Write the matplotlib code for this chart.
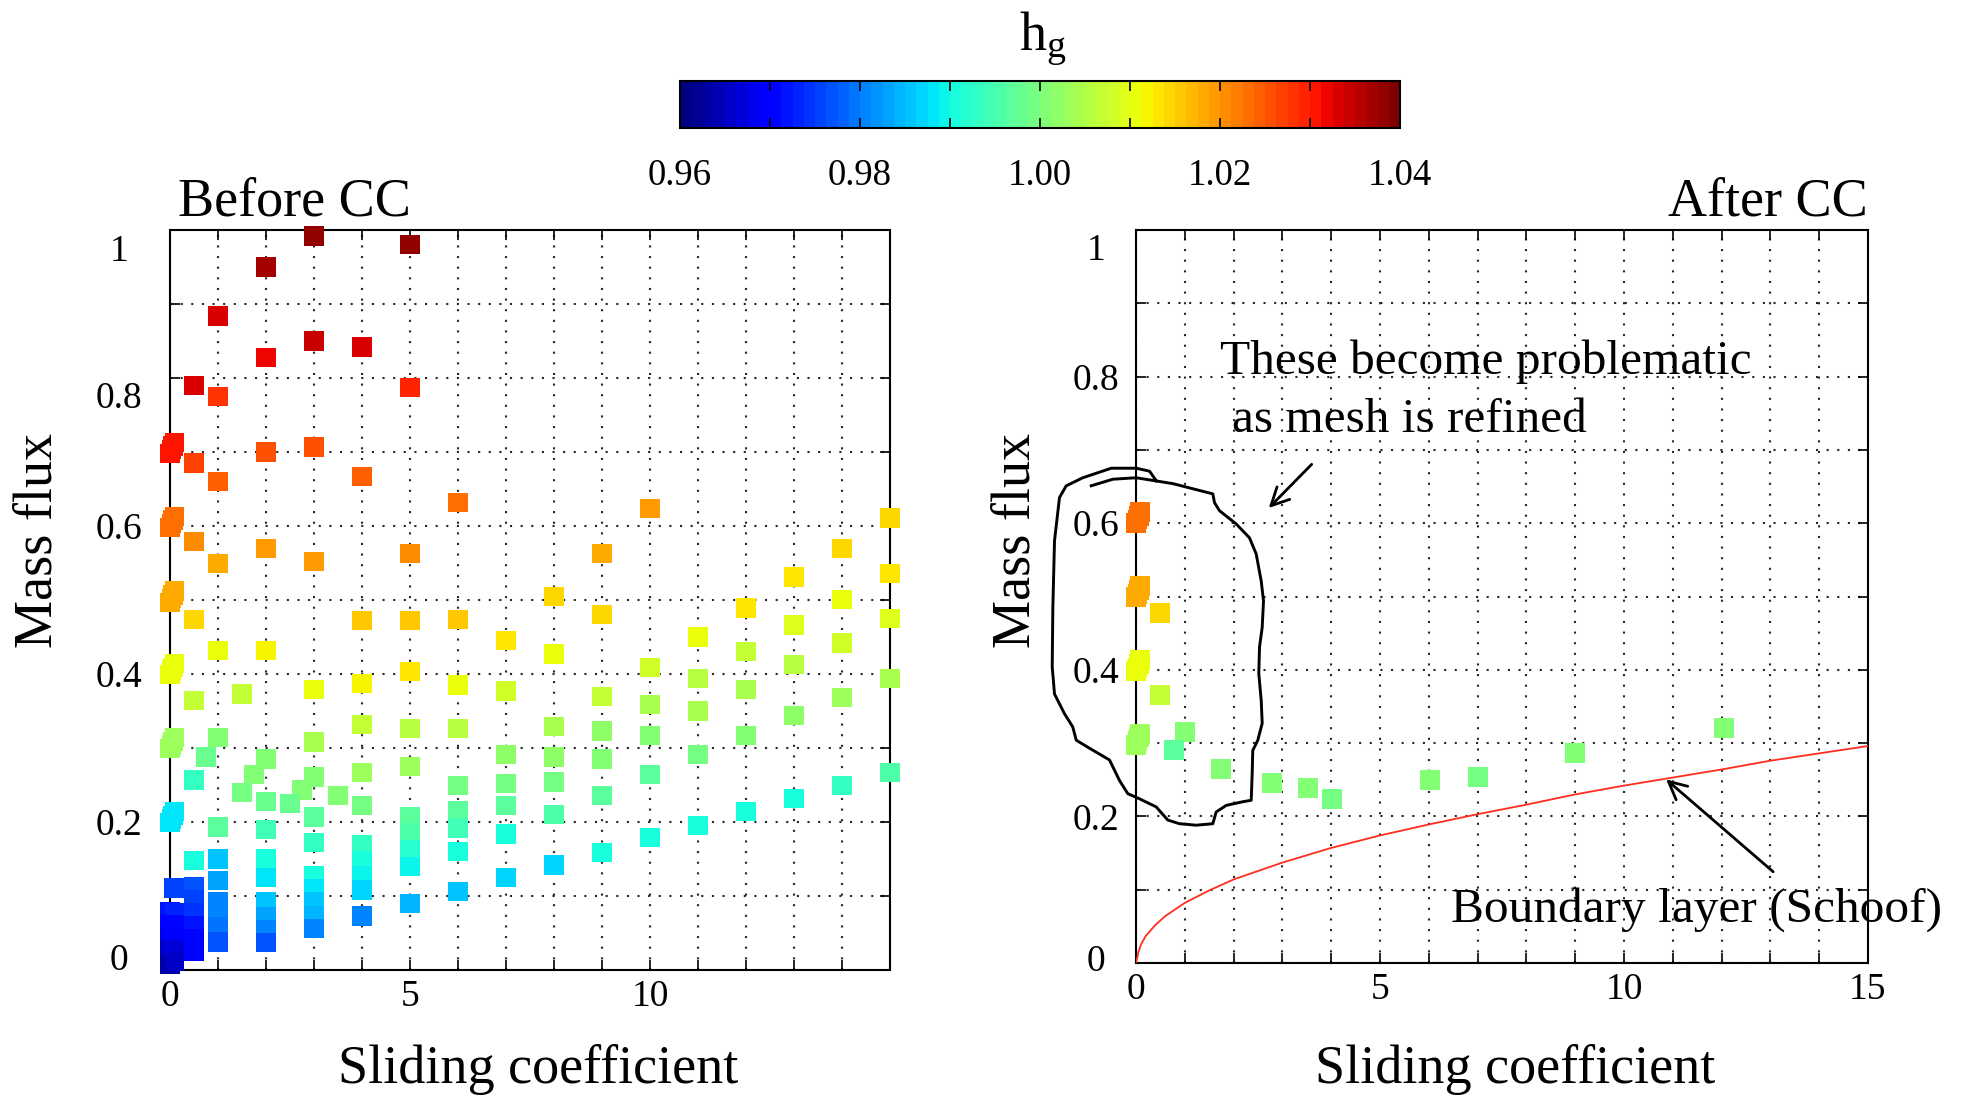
import numpy as np
import matplotlib
matplotlib.use("Agg")
import matplotlib.pyplot as plt
from matplotlib.colors import Normalize
from matplotlib.cm import ScalarMappable
from matplotlib.transforms import ScaledTranslation

plt.rcParams['font.family'] = 'Liberation Serif'
plt.rcParams['mathtext.fontset'] = 'custom'
plt.rcParams['mathtext.rm'] = 'Liberation Serif'
plt.rcParams['mathtext.it'] = 'Liberation Serif:italic'

# ---- data ----
# Before CC : sliding coefficient, mass flux, h_g
before_x = [3, 5, 2, 1, 3, 4, 2, 0.5, 1, 5,
            0.5, 1, 2, 3, 4, 6, 10,
            0.5, 1, 2, 3, 5, 9, 14, 15, 15, 13,
            0.5, 1, 2, 4, 5, 6, 7, 8, 8, 9, 11, 12, 13, 14, 15,
            0.5, 1.5, 3, 4, 5, 6, 7, 9, 10, 10, 11, 11, 12, 12, 12, 13, 13, 14, 14, 15, 15,
            4, 5, 6, 8, 9, 10, 3, 1, 0.75, 2, 7, 8, 9, 11,
            4, 5, 3, 1.75, 0.5, 1.5, 2.75, 3.5, 2, 2.5, 6, 7, 8, 9, 10, 13, 14,
            4, 7, 3, 5, 6, 8, 12, 1, 2, 11, 5, 6, 7, 3, 10, 4,
            5, 6, 9, 8, 7, 6, 5, 5,
            4, 4, 4, 4,
            3, 3, 3, 3, 3,
            2, 2, 2, 2, 2, 2,
            1, 1, 1, 1, 1, 1,
            0.5, 0.5, 0.5, 0.5, 0.5, 0.5, 0.5,
            0.08, 0.0, 0.0, 0.0, 0.0, 0.0,
            0.1, 0.1, 0.1, 0.1, 0.1]
before_y = [0.992, 0.980, 0.950, 0.884, 0.850, 0.842, 0.828, 0.790, 0.775, 0.787,
            0.685, 0.660, 0.700, 0.707, 0.667, 0.632, 0.624,
            0.579, 0.549, 0.570, 0.552, 0.563, 0.563, 0.570, 0.611, 0.536, 0.531,
            0.474, 0.432, 0.432, 0.472, 0.472, 0.474, 0.445, 0.505, 0.427, 0.480, 0.450, 0.489, 0.466, 0.501, 0.475,
            0.364, 0.373, 0.379, 0.387, 0.403, 0.385, 0.377, 0.370, 0.409, 0.359, 0.394, 0.350, 0.430, 0.379, 0.317,
            0.413, 0.344, 0.442, 0.368, 0.394, 0.267,
            0.332, 0.326, 0.326, 0.329, 0.323, 0.317, 0.308, 0.314, 0.288, 0.285, 0.291, 0.288, 0.285, 0.291,
            0.267, 0.275, 0.261, 0.264, 0.257, 0.240, 0.243, 0.236, 0.228, 0.225, 0.249, 0.252, 0.254, 0.236,
            0.264, 0.232, 0.249,
            0.222, 0.222, 0.207, 0.207, 0.215, 0.210, 0.214, 0.193, 0.190, 0.195, 0.185, 0.192, 0.184, 0.172,
            0.179, 0.170,
            0.163, 0.160, 0.159, 0.142, 0.125, 0.106, 0.140, 0.090,
            0.148, 0.127, 0.108, 0.073,
            0.128, 0.110, 0.092, 0.074, 0.056,
            0.150, 0.125, 0.092, 0.072, 0.055, 0.037,
            0.150, 0.121, 0.092, 0.075, 0.058, 0.038,
            0.148, 0.113, 0.095, 0.077, 0.060, 0.042, 0.025,
            0.111, 0.079, 0.062, 0.045, 0.028, 0.008,
            0.078, 0.061, 0.044, 0.027, 0.012]
before_hg = [1.038, 1.038, 1.037, 1.033, 1.034, 1.033, 1.032, 1.033, 1.028, 1.029,
             1.027, 1.024, 1.026, 1.026, 1.025, 1.023, 1.019,
             1.020, 1.018, 1.019, 1.019, 1.020, 1.018, 1.015, 1.015, 1.013, 1.013,
             1.014, 1.011, 1.012, 1.016, 1.016, 1.016, 1.013, 1.015, 1.011, 1.015, 1.010, 1.013, 1.009, 1.011, 1.009,
             1.007, 1.007, 1.010, 1.012, 1.013, 1.010, 1.008, 1.007, 1.008, 1.005, 1.006, 1.004, 1.007, 1.005, 1.000,
             1.006, 1.002, 1.008, 1.003, 1.004, 0.995,
             1.007, 1.006, 1.006, 1.005, 1.002, 1.001, 1.005, 1.000, 0.998, 1.001, 1.002, 1.002, 1.001, 0.999,
             1.003, 1.003, 1.000, 1.001, 0.993, 0.999, 1.001, 1.000, 0.998, 0.998, 0.999, 0.999, 0.999, 0.997,
             0.997, 0.991, 0.993,
             0.999, 0.997, 0.997, 0.997, 0.997, 0.995, 0.990, 0.997, 0.994, 0.990, 0.995, 0.994, 0.991, 0.993,
             0.990, 0.993,
             0.992, 0.990, 0.990, 0.987, 0.987, 0.985, 0.989, 0.984,
             0.991, 0.989, 0.987, 0.981,
             0.990, 0.988, 0.986, 0.984, 0.980,
             0.990, 0.988, 0.985, 0.983, 0.981, 0.977,
             0.985, 0.983, 0.981, 0.980, 0.979, 0.977,
             0.990, 0.977, 0.975, 0.974, 0.972, 0.971, 0.970,
             0.975, 0.972, 0.970, 0.968, 0.966, 0.963,
             0.973, 0.971, 0.969, 0.967, 0.965]

# overlapping squares hugging x = 0 (before CC)
before_stack_x = [0.0, 0.03, 0.06, 0.09] * 6
before_stack_y = [0.698, 0.703, 0.708, 0.713,
                  0.598, 0.603, 0.608, 0.613,
                  0.497, 0.502, 0.507, 0.512,
                  0.399, 0.404, 0.409, 0.414,
                  0.299, 0.304, 0.309, 0.314,
                  0.199, 0.204, 0.209, 0.214]
before_stack_hg = [1.030] * 4 + [1.023] * 4 + [1.018] * 4 + [1.011] * 4 + [1.003] * 4 + [0.988] * 4

# After CC
after_x = [0.0, 0.03, 0.06, 0.09, 0.0, 0.03, 0.06, 0.09, 0.0, 0.03, 0.06, 0.09, 0.0, 0.03, 0.06, 0.09,
           0.5, 0.5, 1.0, 0.77, 1.75, 2.78, 3.53, 4.02, 6.02, 7.01, 9.0, 12.05]
after_y = [0.600, 0.605, 0.610, 0.615, 0.499, 0.504, 0.509, 0.514, 0.398, 0.403, 0.408, 0.413,
           0.298, 0.303, 0.308, 0.313,
           0.477, 0.366, 0.315, 0.290, 0.265, 0.245, 0.239, 0.224, 0.250, 0.254, 0.287, 0.320]
after_hg = [1.023] * 4 + [1.018] * 4 + [1.011] * 4 + [1.003] * 4 + \
           [1.014, 1.007, 1.000, 0.997, 1.001, 1.000, 1.001, 0.999, 1.001, 0.999, 1.001, 1.000]

# boundary layer (Schoof) curve
schoof_x = [0, 0.05, 0.1, 0.2, 0.4, 0.6, 1.0, 1.5, 2, 3, 4, 5, 6, 7, 8, 9, 10, 11, 12, 13, 14, 15]
schoof_y = [0.0, 0.015, 0.025, 0.037, 0.052, 0.064, 0.082, 0.099, 0.114, 0.137, 0.157, 0.174,
            0.189, 0.203, 0.216, 0.230, 0.242, 0.253, 0.264, 0.276, 0.286, 0.296]

# hand drawn loop around the problem points
lasso_x = [-0.918, -0.475, 0.004, 0.754, 1.574, 1.609, 1.711, 2.053, 2.326, 2.463, 2.566, 2.613,
           2.586, 2.531, 2.516, 2.566, 2.586, 2.496, 2.393, 2.381, 2.361, 2.189, 1.848, 1.643,
           1.574, 1.234, 0.891, 0.652, 0.413, 0.072, -0.168, -0.338, -0.543, -0.953, -1.225,
           -1.295, -1.465, -1.670, -1.717, -1.704, -1.670, -1.568, -1.43, -1.09, -0.508, 0.004,
           0.277, 0.414]
lasso_y = [0.651, 0.660, 0.662, 0.654, 0.640, 0.628, 0.617, 0.599, 0.580, 0.558, 0.521, 0.494,
           0.458, 0.431, 0.395, 0.358, 0.327, 0.304, 0.290, 0.259, 0.222, 0.220, 0.215, 0.206,
           0.190, 0.188, 0.190, 0.195, 0.213, 0.224, 0.231, 0.249, 0.277, 0.293, 0.304,
           0.322, 0.340, 0.367, 0.404, 0.485, 0.576, 0.635, 0.651, 0.662, 0.675, 0.675,
           0.671, 0.658]

hg_ticks = [0.96, 0.97, 0.98, 0.99, 1.00, 1.01, 1.02, 1.03, 1.04]
hg_labels = ['0.96', '', '0.98', '', '1.00', '', '1.02', '', '1.04']
x_ticks = list(range(16))
x_labels_before = ['0', '', '', '', '', '5', '', '', '', '', '10', '', '', '', '', '']
x_labels_after = ['0', '', '', '', '', '5', '', '', '', '', '10', '', '', '', '', '15']
y_ticks = [0, 0.1, 0.2, 0.3, 0.4, 0.5, 0.6, 0.7, 0.8, 0.9, 1.0]
y_labels = ['0', '', '0.2', '', '0.4', '', '0.6', '', '0.8', '', '1']

# ---- figure ----
W, H = 1964, 1098
fig = plt.figure(figsize=(W / 100, H / 100), dpi=100)
cmap = plt.get_cmap('jet', 64)
norm = Normalize(0.96, 1.04)


def px(x0, y0, x1, y1):
    return [x0 / W, 1 - y1 / H, (x1 - x0) / W, (y1 - y0) / H]


ax1 = fig.add_axes(px(170, 230, 890, 970))
ax2 = fig.add_axes(px(1136, 230, 1868, 963))


def style(ax, xlabels, ypad, yshift):
    ax.set_xlim(0, 15)
    ax.set_ylim(0, 1)
    ax.set_xticks(x_ticks)
    ax.set_xticklabels(xlabels)
    ax.set_yticks(y_ticks)
    ax.set_yticklabels(y_labels)
    ax.set_axisbelow(True)
    ax.grid(True, color='0.15', linestyle=(0, (1, 4.1)), linewidth=1.5)
    ax.tick_params(direction='in', top=True, right=True, length=7, width=1.2,
                   labelsize=27, colors='k')
    ax.tick_params(axis='x', pad=7)
    ax.tick_params(axis='y', pad=ypad)
    for sp in ax.spines.values():
        sp.set_linewidth(1.5)
    for t, dy in zip(ax.yaxis.get_major_ticks(), yshift):
        t.label1.set_horizontalalignment('center')
        if dy:
            t.label1.set_transform(t.label1.get_transform() +
                                   ScaledTranslation(0, -dy / 100, fig.dpi_scale_trans))


style(ax1, x_labels_before, 36.5, [-13, 0, 0, 0, 0, 0, 0, 0, 17, 0, 18])
style(ax2, x_labels_after, 28.5, [-5, 0, 0, 0, 0, 0, 0, 0, 0, 0, 17])

ax1.scatter(before_x, before_y, c=before_hg, cmap=cmap, norm=norm, marker='s', s=195,
            edgecolors='none', clip_on=False, zorder=3)
ax1.scatter(before_stack_x, before_stack_y, c=before_stack_hg, cmap=cmap, norm=norm, marker='s',
            s=195, edgecolors='none', clip_on=False, zorder=3)

ax2.scatter(after_x, after_y, c=after_hg, cmap=cmap, norm=norm, marker='s', s=205,
            edgecolors='none', clip_on=False, zorder=3)
ax2.plot(schoof_x, schoof_y, color='#ff2d1e', lw=1.3, zorder=4)
ax2.plot(lasso_x, lasso_y, color='k', lw=2.1, clip_on=False, zorder=5)

ax2.text(1.72, 0.803, 'These become problematic', fontsize=35.6, ha='left', va='baseline')
ax2.text(1.97, 0.725, 'as mesh is refined', fontsize=35.6, ha='left', va='baseline')
ax2.text(6.45, 0.0566, 'Boundary layer (Schoof)', fontsize=35.6, ha='left', va='baseline')
ax2.annotate('', xy=(2.68, 0.618), xytext=(3.64, 0.683),
             arrowprops=dict(arrowstyle='->', lw=2, color='k', mutation_scale=32),
             annotation_clip=False)
ax2.annotate('', xy=(10.82, 0.253), xytext=(13.1, 0.122),
             arrowprops=dict(arrowstyle='->', lw=2, color='k', mutation_scale=32),
             annotation_clip=False)

# titles and labels
fig.text(178 / W, 1 - 215 / H, 'Before CC', fontsize=39, ha='left', va='baseline')
fig.text(1868 / W, 1 - 215 / H, 'After CC', fontsize=39, ha='right', va='baseline')
fig.text(38 / W, 1 - 540 / H, 'Mass flux', fontsize=39, rotation=90, ha='center', va='center')
fig.text(1016 / W, 1 - 540 / H, 'Mass flux', fontsize=39, rotation=90, ha='center', va='center')
fig.text(538 / W, 1 - 1083 / H, 'Sliding coefficient', fontsize=39, ha='center', va='baseline')
fig.text(1515 / W, 1 - 1083 / H, 'Sliding coefficient', fontsize=39, ha='center', va='baseline')

# colorbar
cax = fig.add_axes(px(680, 81, 1400, 128))
cb = fig.colorbar(ScalarMappable(norm=norm, cmap=cmap), cax=cax, orientation='horizontal')
cb.set_ticks(hg_ticks)
cb.set_ticklabels(hg_labels)
cb.ax.tick_params(direction='in', length=7, width=1.2, top=True, bottom=True,
                  labelsize=26.5, pad=22)
cb.outline.set_linewidth(1.5)
fig.text(1043 / W, 1 - 50 / H, r'$\mathrm{h}_{\mathrm{g}}$', fontsize=39, ha='center', va='baseline')

fig.savefig('out.png', dpi=100)
